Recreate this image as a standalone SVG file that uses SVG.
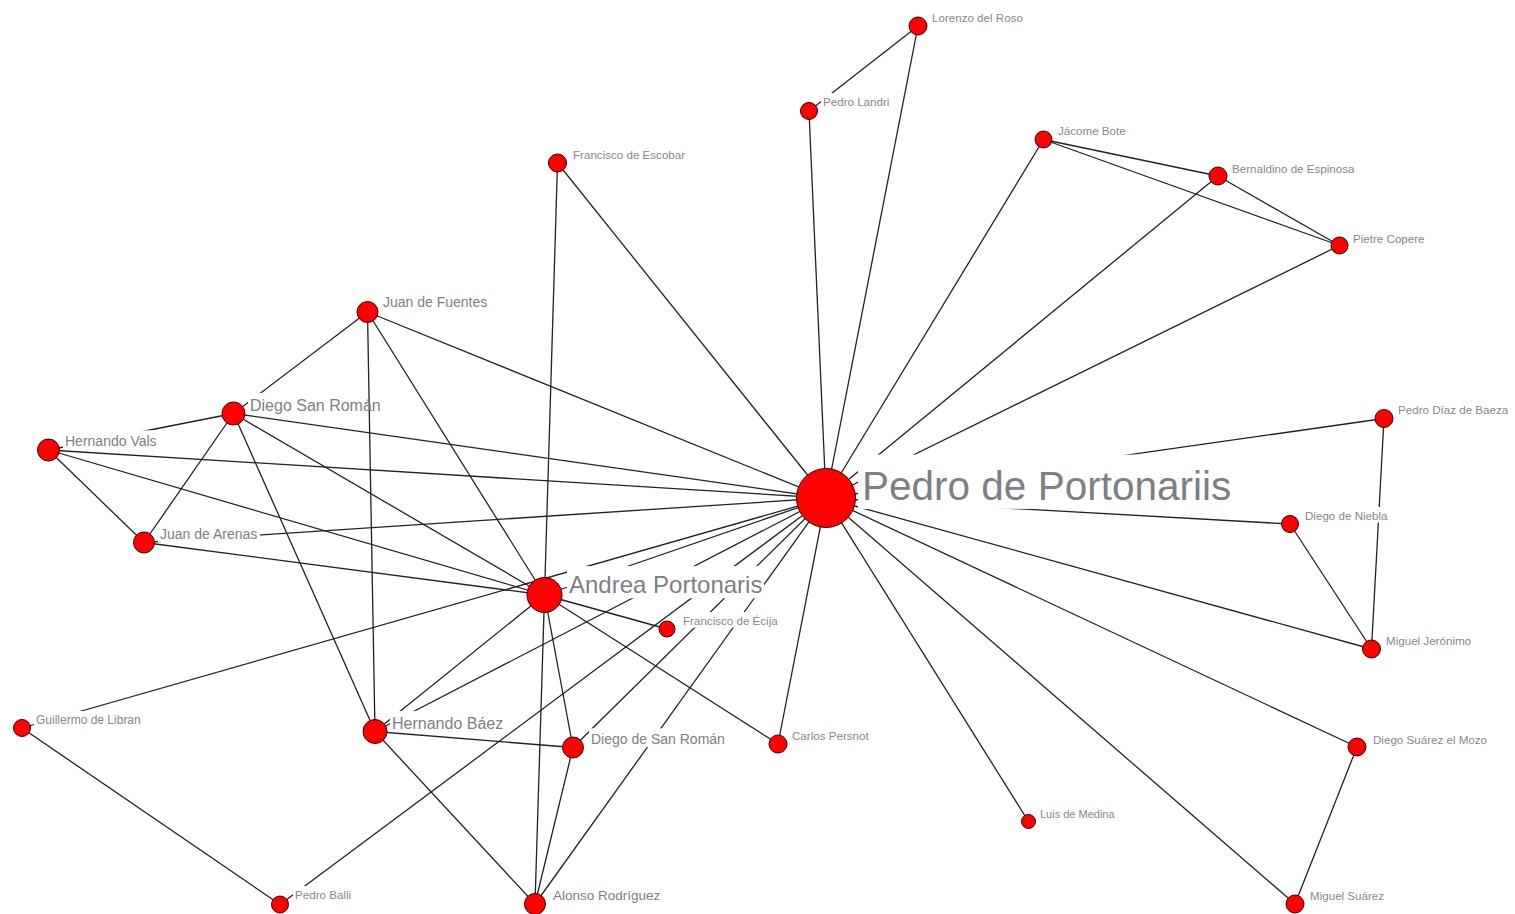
<svg xmlns="http://www.w3.org/2000/svg" width="1515" height="914" viewBox="0 0 1515 914">
<style>
.e line{stroke:#222;stroke-width:1.3;fill:none}
.n circle{fill:#ff0000;stroke:#3a0000;stroke-width:1}
.n rect{fill:#ffffff}
.n text{font-family:"Liberation Sans",Arial,sans-serif;fill:#888888;font-size:11.6px}
.n text.m{font-size:14px;fill:#808080}
.n text.b{font-size:16px;fill:#7f7f7f}
.n text.x{font-size:24px;fill:#7d7f84}
.n text.xx{font-size:40.5px;fill:#7d7f84}
</style>
<rect x="0" y="0" width="1515" height="914" fill="#ffffff"/>
<g id="connectors" class="e">
<line x1="826" y1="498" x2="918" y2="26"/>
<line x1="826" y1="498" x2="809" y2="111"/>
<line x1="826" y1="498" x2="1043.5" y2="139.5"/>
<line x1="826" y1="498" x2="1218" y2="176"/>
<line x1="826" y1="498" x2="1339.5" y2="245.5"/>
<line x1="826" y1="498" x2="557.5" y2="163"/>
<line x1="826" y1="498" x2="367.5" y2="312"/>
<line x1="826" y1="498" x2="233.5" y2="413.5"/>
<line x1="826" y1="498" x2="48.5" y2="450"/>
<line x1="826" y1="498" x2="144" y2="542.5"/>
<line x1="826" y1="498" x2="1384" y2="418.5"/>
<line x1="826" y1="498" x2="1290" y2="524"/>
<line x1="826" y1="498" x2="1371.5" y2="649"/>
<line x1="826" y1="498" x2="1357" y2="747"/>
<line x1="826" y1="498" x2="1295" y2="904"/>
<line x1="826" y1="498" x2="1028.5" y2="821.5"/>
<line x1="826" y1="498" x2="778" y2="744"/>
<line x1="826" y1="498" x2="544.5" y2="595"/>
<line x1="826" y1="498" x2="22" y2="728"/>
<line x1="826" y1="498" x2="375" y2="731.5"/>
<line x1="826" y1="498" x2="280" y2="904.5"/>
<line x1="826" y1="498" x2="573" y2="747.5"/>
<line x1="826" y1="498" x2="535" y2="904"/>
<line x1="918" y1="26" x2="809" y2="111"/>
<line x1="1043.5" y1="139.5" x2="1218" y2="176"/>
<line x1="1043.5" y1="139.5" x2="1339.5" y2="245.5"/>
<line x1="1218" y1="176" x2="1339.5" y2="245.5"/>
<line x1="1384" y1="418.5" x2="1371.5" y2="649"/>
<line x1="1290" y1="524" x2="1371.5" y2="649"/>
<line x1="1357" y1="747" x2="1295" y2="904"/>
<line x1="544.5" y1="595" x2="557.5" y2="163"/>
<line x1="544.5" y1="595" x2="367.5" y2="312"/>
<line x1="544.5" y1="595" x2="233.5" y2="413.5"/>
<line x1="544.5" y1="595" x2="48.5" y2="450"/>
<line x1="544.5" y1="595" x2="144" y2="542.5"/>
<line x1="544.5" y1="595" x2="667" y2="629"/>
<line x1="544.5" y1="595" x2="778" y2="744"/>
<line x1="544.5" y1="595" x2="573" y2="747.5"/>
<line x1="544.5" y1="595" x2="535" y2="904"/>
<line x1="544.5" y1="595" x2="375" y2="731.5"/>
<line x1="367.5" y1="312" x2="233.5" y2="413.5"/>
<line x1="367.5" y1="312" x2="375" y2="731.5"/>
<line x1="233.5" y1="413.5" x2="48.5" y2="450"/>
<line x1="233.5" y1="413.5" x2="144" y2="542.5"/>
<line x1="233.5" y1="413.5" x2="375" y2="731.5"/>
<line x1="48.5" y1="450" x2="144" y2="542.5"/>
<line x1="375" y1="731.5" x2="573" y2="747.5"/>
<line x1="375" y1="731.5" x2="535" y2="904"/>
<line x1="573" y1="747.5" x2="535" y2="904"/>
<line x1="22" y1="728" x2="280" y2="904.5"/>
</g>
<g id="n-pedro-de-portonariis" class="n"><rect x="858" y="454.6" width="375" height="54.3"/><circle cx="826" cy="498" r="29.5"/><text class="xx" x="862" y="500">Pedro de Portonariis</text></g>
<g id="n-andrea-portonaris" class="n"><rect x="567" y="566.1" width="197" height="32.2"/><circle cx="544.5" cy="595" r="17.5"/><text class="x" x="569" y="593">Andrea Portonaris</text></g>
<g id="n-lorenzo-del-roso" class="n"><rect x="930" y="8.5" width="95" height="15.6"/><circle cx="918" cy="26" r="9"/><text x="932" y="21.5">Lorenzo del Roso</text></g>
<g id="n-pedro-landri" class="n"><rect x="821" y="93" width="70" height="15.6"/><circle cx="809" cy="111" r="8.5"/><text x="823" y="106">Pedro Landri</text></g>
<g id="n-jacome-bote" class="n"><rect x="1056" y="122" width="72" height="15.6"/><circle cx="1043.5" cy="139.5" r="8.5"/><text x="1058" y="135">Jácome Bote</text></g>
<g id="n-bernaldino-de-espinosa" class="n"><rect x="1230" y="160" width="127" height="15.6"/><circle cx="1218" cy="176" r="9"/><text x="1232" y="173">Bernaldino de Espinosa</text></g>
<g id="n-pietre-copere" class="n"><rect x="1351" y="230" width="76" height="15.6"/><circle cx="1339.5" cy="245.5" r="8.5"/><text x="1353" y="243">Pietre Copere</text></g>
<g id="n-francisco-de-escobar" class="n"><rect x="571" y="146" width="116" height="15.6"/><circle cx="557.5" cy="163" r="9"/><text x="573" y="159">Francisco de Escobar</text></g>
<g id="n-juan-de-fuentes" class="n"><rect x="381" y="291.3" width="108" height="18.8"/><circle cx="367.5" cy="312" r="10.5"/><text class="m" x="383" y="307">Juan de Fuentes</text></g>
<g id="n-diego-san-roman" class="n"><rect x="248" y="393.1" width="118" height="21.4"/><circle cx="233.5" cy="413.5" r="11.5"/><text class="b" x="250" y="411">Diego San Román</text></g>
<g id="n-hernando-vals" class="n"><rect x="63" y="430.3" width="97" height="18.8"/><circle cx="48.5" cy="450" r="11"/><text class="m" x="65" y="446">Hernando Vals</text></g>
<g id="n-juan-de-arenas" class="n"><rect x="158" y="523.3" width="102" height="18.8"/><circle cx="144" cy="542.5" r="10.5"/><text class="m" x="160" y="539">Juan de Arenas</text></g>
<g id="n-pedro-diaz-de-baeza" class="n"><rect x="1396" y="401" width="114" height="15.6"/><circle cx="1384" cy="418.5" r="9"/><text x="1398" y="414">Pedro Díaz de Baeza</text></g>
<g id="n-diego-de-niebla" class="n"><rect x="1303" y="507" width="87" height="15.6"/><circle cx="1290" cy="524" r="8.5"/><text x="1305" y="520">Diego de Niebla</text></g>
<g id="n-miguel-jeronimo" class="n"><rect x="1384" y="632" width="89" height="15.6"/><circle cx="1371.5" cy="649" r="9"/><text x="1386" y="645">Miguel Jerónimo</text></g>
<g id="n-francisco-de-ecija" class="n"><rect x="681" y="612" width="99" height="15.6"/><circle cx="667" cy="629" r="8"/><text x="683" y="625">Francisco de Écija</text></g>
<g id="n-carlos-persnot" class="n"><rect x="790" y="727" width="81" height="15.6"/><circle cx="778" cy="744" r="9"/><text x="792" y="740">Carlos Persnot</text></g>
<g id="n-guillermo-de-libran" class="n"><rect x="34" y="711" width="108" height="15.6"/><circle cx="22" cy="728" r="8.5"/><text x="36" y="724" style="font-size:12px">Guillermo de Libran</text></g>
<g id="n-hernando-baez" class="n"><rect x="390" y="711.1" width="115" height="21"/><circle cx="375" cy="731.5" r="12"/><text class="b" x="392" y="729">Hernando Báez</text></g>
<g id="n-diego-de-san-roman" class="n"><rect x="589" y="728.3" width="138" height="18.8"/><circle cx="573" cy="747.5" r="10.5"/><text class="m" x="591" y="744">Diego de San Román</text></g>
<g id="n-pedro-balli" class="n"><rect x="293" y="886" width="60" height="15.6"/><circle cx="280" cy="904.5" r="8.5"/><text x="295" y="899">Pedro Balli</text></g>
<g id="n-alonso-rodriguez" class="n"><rect x="551" y="884.9" width="111" height="18.1"/><circle cx="535" cy="904" r="10.5"/><text class="m" x="553" y="900" style="font-size:13.5px">Alonso Rodríguez</text></g>
<g id="n-luis-de-medina" class="n"><rect x="1038" y="805.7" width="79" height="14.8"/><circle cx="1028.5" cy="821.5" r="7"/><text x="1040" y="818" style="font-size:11px">Luis de Medina</text></g>
<g id="n-diego-suarez-el-mozo" class="n"><rect x="1371" y="731" width="118" height="15.6"/><circle cx="1357" cy="747" r="9"/><text x="1373" y="744">Diego Suárez el Mozo</text></g>
<g id="n-miguel-suarez" class="n"><rect x="1308" y="887" width="78" height="15.6"/><circle cx="1295" cy="904" r="9"/><text x="1310" y="900">Miguel Suárez</text></g>
</svg>
